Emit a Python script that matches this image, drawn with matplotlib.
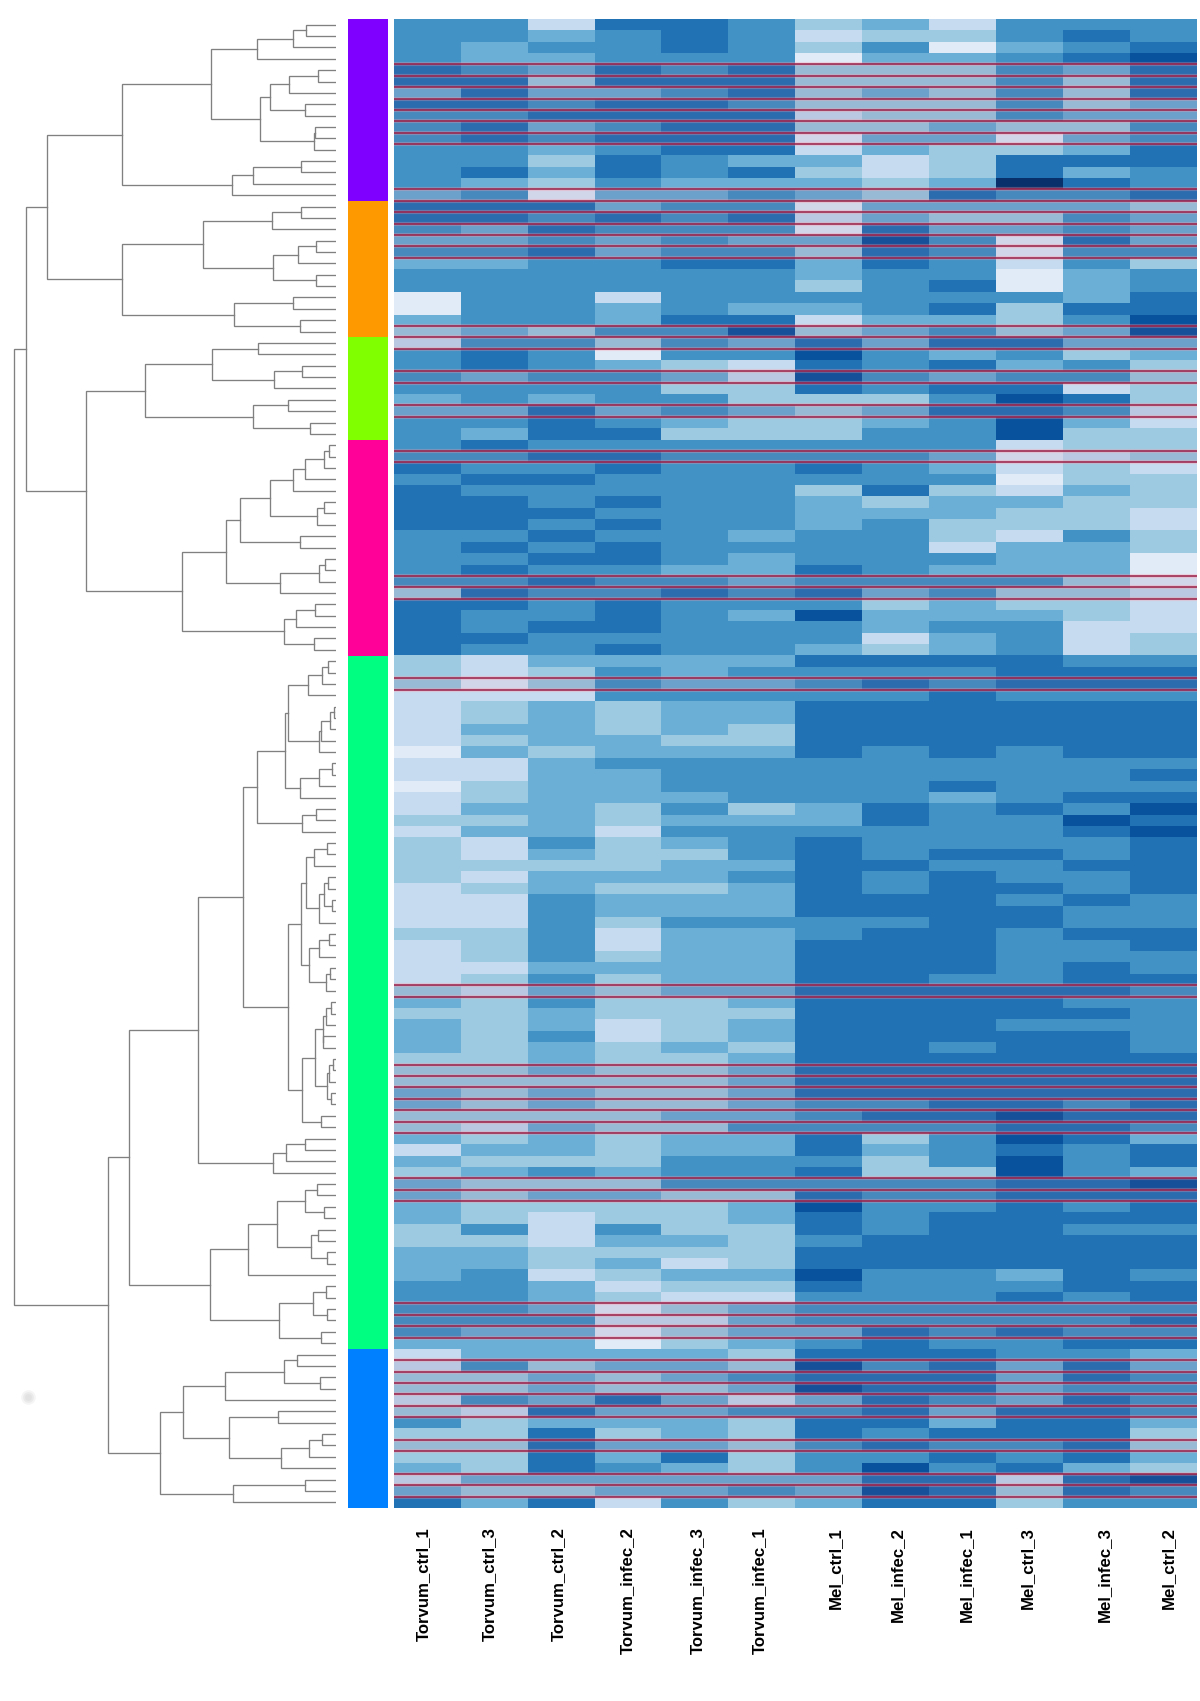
import matplotlib
matplotlib.use("Agg")
import matplotlib.pyplot as plt
from matplotlib.colors import ListedColormap
import numpy as np

samples = ["Torvum_ctrl_1", "Torvum_ctrl_3", "Torvum_ctrl_2", "Torvum_infec_2", "Torvum_infec_3", "Torvum_infec_1",
           "Mel_ctrl_1", "Mel_infec_2", "Mel_infec_1", "Mel_ctrl_3", "Mel_infec_3", "Mel_ctrl_2"]

# colour class of every cell, 0 = darkest blue ... 8 = almost white
purple_rows = [
    [3,3,6,2,2,3,5,4,6,3,3,3], [3,3,4,3,2,3,6,5,5,3,2,3], [3,4,3,3,2,3,5,3,7,4,3,2], [3,4,4,3,3,3,7,4,4,3,2,1],
    [2,3,4,2,3,2,5,5,5,3,4,2], [2,2,5,2,2,2,5,5,5,3,5,2], [4,2,4,4,3,2,5,4,5,3,5,2], [2,2,3,2,2,3,5,5,5,3,5,4],
    [3,3,2,2,2,2,6,5,5,3,4,4], [3,2,4,3,2,2,5,5,4,5,5,3], [3,2,3,2,2,2,7,4,4,7,4,3], [3,3,4,3,2,2,6,4,5,5,4,2],
    [3,3,5,2,3,4,4,6,5,2,2,2], [3,2,4,2,3,2,5,6,5,2,4,3], [3,4,5,3,4,4,4,5,4,0,2,3], [4,3,7,4,4,3,4,5,2,3,3,2],
]
orange_rows = [
    [2,2,2,4,3,3,7,4,4,4,4,5], [2,2,3,2,3,2,6,4,5,5,3,4], [3,4,2,3,3,3,7,2,4,4,3,4], [4,4,3,4,3,4,4,1,3,7,2,4],
    [3,3,2,4,3,3,5,2,3,7,3,3], [4,4,3,3,2,2,4,2,3,6,3,5], [3,3,3,3,3,3,4,3,3,7,4,3], [3,3,3,3,3,3,5,3,2,7,4,3],
    [7,3,3,6,3,3,3,3,3,3,4,2], [7,3,3,4,3,4,4,3,2,5,2,2], [4,3,3,4,2,2,6,4,4,5,3,1], [5,4,5,3,3,1,5,4,3,5,4,1],
]
lime_rows = [
    [6,3,3,5,3,4,2,4,2,2,4,4], [3,2,3,7,3,3,1,3,4,3,5,4], [3,2,3,4,5,6,2,3,2,4,3,5],
    [3,4,3,3,4,6,1,3,4,3,3,5], [3,3,3,3,5,5,2,3,2,2,6,5], [4,3,4,3,3,5,5,5,3,1,2,5],
    [4,4,2,4,3,4,5,4,2,2,3,6], [3,3,2,3,4,5,5,4,3,1,4,6], [3,4,2,2,5,5,5,3,3,1,5,5],
]
pink_rows = [
    [3,2,3,3,3,3,3,3,3,6,5,5], [3,3,2,2,3,3,3,3,4,7,6,5], [2,3,3,2,3,3,2,3,4,6,5,6], [3,2,2,3,3,3,3,3,3,7,5,5],
    [2,3,3,3,3,3,5,2,5,6,4,5], [2,2,3,2,3,3,4,5,4,4,5,5], [2,2,2,3,3,3,4,4,4,5,5,6], [2,2,3,2,3,3,4,3,5,5,5,6],
    [3,3,2,3,3,4,3,3,5,6,3,5], [3,2,3,2,3,3,3,3,6,4,4,5], [3,3,2,2,3,4,3,3,3,4,4,7], [3,2,3,3,4,4,2,3,4,4,4,7],
    [3,3,2,3,3,4,3,3,3,3,5,7], [5,2,3,3,2,3,2,4,3,5,5,6], [2,2,3,2,3,3,3,5,4,5,5,6], [2,3,3,2,3,4,1,4,4,4,5,6],
    [2,3,2,2,3,3,3,4,3,3,6,6], [2,2,3,3,3,3,3,6,4,3,6,5], [2,3,3,2,3,3,4,5,4,3,6,5],
]
green_rows = [
    [5,6,4,4,4,4,2,2,2,2,3,3], [5,6,5,3,4,3,3,3,3,2,2,2], [5,7,5,3,4,4,3,2,3,2,2,2], [6,6,6,3,3,3,3,3,2,3,3,3],
    [6,5,4,5,4,4,2,2,2,2,2,2], [6,5,4,5,4,4,2,2,2,2,2,2], [6,4,4,5,4,5,2,2,2,2,2,2], [6,5,4,4,5,5,2,2,2,2,2,2],
    [7,4,5,4,4,4,2,3,2,3,2,2], [6,6,4,3,3,3,3,3,3,3,3,3], [6,6,4,4,3,3,3,3,3,3,3,2], [7,5,4,4,3,3,3,3,2,3,3,3],
    [6,5,4,4,4,3,3,3,4,3,2,2], [6,4,4,5,3,5,4,2,3,2,3,1], [5,5,4,5,4,4,4,2,3,3,1,2], [6,4,4,6,3,3,3,3,3,3,2,1],
    [5,6,3,5,4,3,2,3,3,3,3,2], [5,6,4,5,5,3,2,3,2,2,3,2], [5,5,5,5,4,4,2,2,3,3,2,2], [5,6,4,4,4,3,2,3,2,3,3,2],
    [6,5,4,5,5,4,2,3,2,2,3,2], [6,6,3,4,4,4,2,2,2,3,2,3], [6,6,3,4,4,4,2,2,2,2,3,3], [6,6,3,5,3,3,3,3,2,2,3,3],
    [5,5,3,6,4,4,3,2,2,3,2,2], [6,5,3,6,4,4,2,2,2,3,3,2], [6,5,3,5,4,4,2,2,2,3,3,3], [6,6,4,4,4,4,2,2,2,3,2,3],
    [6,5,3,5,4,4,2,2,3,3,2,2], [5,6,4,5,4,4,2,2,2,2,2,3], [4,5,3,5,5,4,2,2,2,2,3,3], [5,5,4,5,5,5,2,2,2,2,2,3],
    [4,5,4,6,5,4,2,2,2,3,3,3], [4,5,3,6,5,4,2,2,2,2,2,3], [4,5,4,5,4,5,2,2,3,2,2,3], [5,5,4,5,5,4,2,2,2,2,2,2],
    [5,5,4,5,5,4,2,2,2,2,2,2], [5,5,5,5,5,4,2,2,2,2,2,2], [4,5,4,5,5,4,2,2,2,2,2,2], [4,5,4,5,5,4,3,3,2,2,3,2],
    [5,5,5,5,4,4,3,2,2,1,2,2], [5,6,4,5,5,3,3,3,3,2,2,3], [4,5,4,5,4,4,2,5,3,1,2,4], [6,4,4,5,4,4,2,4,3,2,3,2],
    [4,5,5,5,3,3,3,5,3,1,3,2], [5,4,3,4,3,3,2,5,5,1,3,4], [4,5,5,5,3,3,3,3,3,2,2,1], [4,5,4,4,5,5,2,3,3,2,2,2],
    [4,5,5,5,5,4,1,3,3,2,3,2], [4,5,6,5,5,4,2,3,2,2,2,2], [5,3,6,3,5,5,2,3,2,2,3,3], [5,5,6,4,4,5,3,2,2,2,2,2],
    [4,4,5,5,5,5,2,2,2,2,2,2], [4,4,5,4,6,5,2,2,2,2,2,2], [4,3,6,5,4,4,1,3,3,4,2,3], [3,3,4,6,5,5,2,3,3,3,2,2],
    [3,3,4,5,6,6,3,3,3,2,3,2], [3,3,4,7,5,4,3,3,3,3,3,3], [3,3,3,6,6,4,3,3,3,3,3,2], [3,4,4,7,5,4,4,2,3,2,3,3],
    [4,4,4,7,5,4,3,2,3,3,2,2],
]
blue_rows = [
    [6,4,4,4,4,5,2,2,2,3,3,4], [6,3,5,4,4,5,1,3,2,4,2,4], [5,5,4,5,4,3,2,2,2,4,2,3], [5,5,4,5,5,4,1,2,2,4,3,3],
    [6,3,4,2,4,6,4,2,3,4,2,3], [5,6,2,4,4,3,3,2,4,2,2,3], [3,5,4,4,4,5,2,2,4,2,2,4], [5,5,2,5,4,5,2,3,2,2,2,5],
    [5,5,2,4,4,5,3,2,3,3,2,5], [5,5,2,4,2,5,3,3,2,3,2,4], [4,5,2,3,4,5,3,1,3,2,4,5], [6,4,4,4,4,4,4,2,2,6,2,1],
    [4,5,5,4,4,3,4,1,2,5,2,3], [2,4,2,6,3,5,4,2,2,5,3,3],
]
cluster_rows = [purple_rows, orange_rows, lime_rows, pink_rows, green_rows, blue_rows]
cluster_colors = ["#7f00ff", "#ff9900", "#80ff00", "#ff0099", "#00ff80", "#0080ff"]

blues = ["#08306b", "#08519c", "#2171b5", "#4292c6", "#6baed6", "#9ecae1", "#c6dbef", "#e1ebf8", "#f7fbff"]

# row boundaries that carry a red line
red_lines = [4, 5, 6, 7, 8, 9, 10, 11, 15, 16, 17, 18, 19, 20, 21, 27, 28, 29, 31, 32, 34, 35, 38, 39,
             49, 50, 51, 58, 59, 85, 86, 92, 93, 94, 95, 96, 97, 98, 102, 103, 104,
             113, 114, 115, 116, 118, 119, 120, 121, 122, 123, 125, 126, 128, 129, 130]

# dendrogram: (merge position in px from left, child, child), None is a leaf, leaves in row order
L = None
tree_purple = (122,
    (211,
        (257, (293, (306, L, L), L), L),
        (260,
            (270, (289, (318, L, L), L), (305, L, L)),
            (314, (315, L, L), L))),
    (232, (253, (301, L, L), L), L))
tree_orange = (122,
    (203,
        (272, (301, L, L), L),
        (273, (298, (316, L, L), L), (316, L, L))),
    (234, (293, L, L), (300, L, L)))
tree_lime = (145,
    (212, (258, L, L), (274, (302, L, L), L)),
    (253, (288, L, L), (310, L, L)))
tree_pink = (182,
    (226,
        (240,
            (270,
                (293, (305, (324, (329, L, L), L), L), L),
                (317, (324, L, L), L)),
            (300, L, L)),
        (280, (319, (325, L, L), L), L)),
    (284, (296, (315, L, L), L), (314, L, L)))
tree_green_a = (257,
    (285,
        (288,
            (308, (322, (328, L, L), L), L),
            (319, (321, (330, (334, L, L), L), L), L)),
        (300, (319, (332, L, L), L), L)),
    (302, (316, L, L), L))
tree_green_b = (288,
    (301,
        (306,
            (314, (327, L, L), L),
            (319, (324, (328, L, L), (332, L, L)), L)),
        (309,
            (319, (329, L, L), L),
            (326, (330, L, L), L))),
    (302,
        (315,
            (323, (326, (331, L, L), L), (323, L, L)),
            (327, (329, (333, L, L), L), (331, L, L))),
        (321, L, L)))
tree_green_c = (273, (286, (305, L, L), L), L)
tree_green_d = (210,
    (248,
        (277,
            (305, (317, L, L), (324, L, L)),
            (311, (318, L, L), (327, L, L))),
        L),
    (279,
        (313, (326, L, L), (327, L, L)),
        (321, L, L)))
tree_green = (129, (198, (243, tree_green_a, tree_green_b), tree_green_c), tree_green_d)
tree_blue = (160,
    (183,
        (225, (284, (297, L, L), (320, L, L)), L),
        (229,
            (278, L, L),
            (281, (309, (322, L, L), L), L))),
    (233, (305, L, L), L))
tree_root = (14,
    (26,
        (47, tree_purple, tree_orange),
        (86, tree_lime, tree_pink)),
    (108, tree_green, tree_blue))

W, H = 1200, 1701
fig = plt.figure(figsize=(W / 100, H / 100), dpi=100)
plt.rcParams["font.family"] = ["Liberation Sans", "DejaVu Sans"]

def px_axes(x0, y0, x1, y1):
    a = fig.add_axes([x0 / W, 1 - y1 / H, (x1 - x0) / W, (y1 - y0) / H])
    a.axis("off")
    return a

top, bottom = 19, 1508
heat = np.array([r for rows in cluster_rows for r in rows])
n_rows, n_cols = heat.shape

# heatmap
ax = px_axes(394, top, 1197, bottom)
ax.imshow(heat, cmap=ListedColormap(blues), vmin=0, vmax=8, aspect="auto", interpolation="nearest",
          extent=[0, n_cols, n_rows, 0])
# rows closed in by two red lines look greyed in the original
for k in red_lines:
    if k + 1 in red_lines:
        ax.axhspan(k, k + 1, color="#705088", alpha=0.13, lw=0)
ax.hlines(red_lines, 0, n_cols, color="#ff9aa8", lw=3.0, alpha=0.3)
ax.hlines(red_lines, 0, n_cols, color="#9c2048", lw=1.4, alpha=0.8)
ax.set_xlim(0, n_cols)
ax.set_ylim(n_rows, 0)

# cluster colour bar
ax_bar = px_axes(348, top, 388, bottom)
start = 0
for rows, c in zip(cluster_rows, cluster_colors):
    ax_bar.barh(start, 1, height=len(rows), align="edge", color=c, lw=0)
    start += len(rows)
ax_bar.set_xlim(0, 1)
ax_bar.set_ylim(n_rows, 0)

# dendrogram, x axis in pixels of the picture
ax_den = px_axes(0, top, 336, bottom)
ax_den.set_xlim(0, 336)
ax_den.set_ylim(n_rows, 0)
leaf = [0]

def draw(node):
    if node is None:
        leaf[0] += 1
        return 335, leaf[0] - 0.5
    x, a, b = node
    xa, ya = draw(a)
    xb, yb = draw(b)
    ax_den.plot([xa, x, x, xb], [ya, ya, yb, yb], color="#808080", lw=0.95, solid_joinstyle="miter")
    return x, (ya + yb) / 2

draw(tree_root)

# faint smudge left of the dendrogram
for s, a in [(110, 0.25), (60, 0.35), (25, 0.4)]:
    ax_den.scatter([28], [(1397 - top) / 11.37], s=s, color="#d8d8d8", alpha=a, lw=0)

# sample names, unevenly spaced in the original
label_x = [423.6, 489.6, 558.4, 627, 697, 759, 835.6, 897.8, 966, 1027.6, 1104.6, 1168]
for x, s in zip(label_x, samples):
    fig.text(x / W, 1 - 1527 / H, s, rotation=90, ha="center", va="top", fontsize=12.1,
             fontweight="bold", color="black")

fig.savefig("out.png", dpi=100)
